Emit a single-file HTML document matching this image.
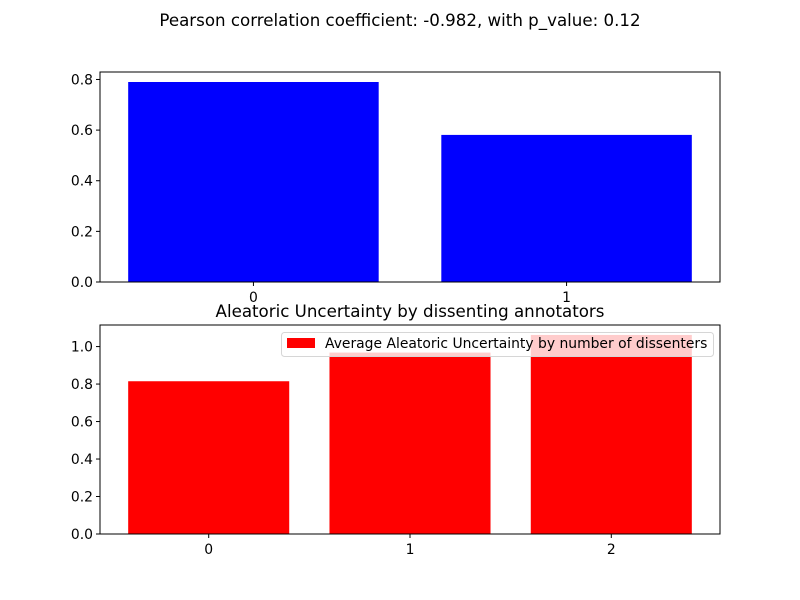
<!DOCTYPE html>
<html><head><meta charset="utf-8"><style>
body{margin:0;background:#fff}
svg{display:block;font-family:"DejaVu Sans","Liberation Sans",sans-serif}
</style></head><body>
<svg id="c" width="800" height="600" xmlns="http://www.w3.org/2000/svg">
<text x="400" y="26" text-anchor="middle" font-size="16.67">Pearson correlation coefficient: -0.982, with p_value: 0.12</text>
<text x="410" y="317" text-anchor="middle" font-size="16.67">Aleatoric Uncertainty by dissenting annotators</text>
</svg>
<script>
const topCats=[0,1];
const topVals=[0.79,0.581];
const topTicks=[0,0.2,0.4,0.6,0.8];
const botCats=[0,1,2];
const botVals=[0.815,0.968,1.062];
const botTicks=[0,0.2,0.4,0.6,0.8,1.0];
const legendLabel="Average Aleatoric Uncertainty by number of dissenters";
const NS="http://www.w3.org/2000/svg";
const svg=document.getElementById('c');
function el(t,a,txt){const e=document.createElementNS(NS,t);for(const k in a)e.setAttribute(k,a[k]);if(txt!==undefined)e.textContent=txt;svg.appendChild(e);return e;}
function panel(cats,vals,ticks,top,bot,color,pfx){
  const L=100,R=720;
  const n=cats.length;const x0=-0.4-(n-0.2)*0.05,x1=n-1+0.4+(n-0.2)*0.05;
  const ymax=Math.max(...vals)*1.05;
  const sx=v=>L+(v-x0)/(x1-x0)*(R-L);
  const sy=v=>bot-v/ymax*(bot-top);
  cats.forEach((c,i)=>{
    const r=el('rect',{x:sx(c-0.4),y:sy(vals[i]),width:sx(c+0.4)-sx(c-0.4),height:bot-sy(vals[i]),fill:color});
    
    
    const tk=el('line',{x1:sx(c),x2:sx(c),y1:bot,y2:bot+4,stroke:'#000'});
    
    
    const t=el('text',{x:sx(c),y:bot+20,'text-anchor':'middle','font-size':13.9},String(c));
    
    
  });
  ticks.forEach(v=>{
    const tk=el('line',{x1:L-4,x2:L,y1:sy(v),y2:sy(v),stroke:'#000'});
    
    
    const t=el('text',{x:L-7,y:sy(v)+5,'text-anchor':'end','font-size':13.9},v.toFixed(1));
    
    
  });
  const f=el('rect',{x:L,y:top,width:R-L,height:bot-top,fill:'none',stroke:'#000','stroke-width':1});
  
  
}
panel(topCats,topVals,topTicks,72,282,'#0000ff','top');
panel(botCats,botVals,botTicks,325,534,'#ff0000','bottom');
const lg=el('rect',{x:281.5,y:332.5,width:432,height:24,rx:3,fill:'rgba(255,255,255,0.8)',stroke:'#d6d6d6'});


const lp=el('rect',{x:287,y:338,width:28,height:10,fill:'#ff0000'});


const lt=el('text',{x:325,y:348,'font-size':13.9},legendLabel);


</script>
</body></html>
